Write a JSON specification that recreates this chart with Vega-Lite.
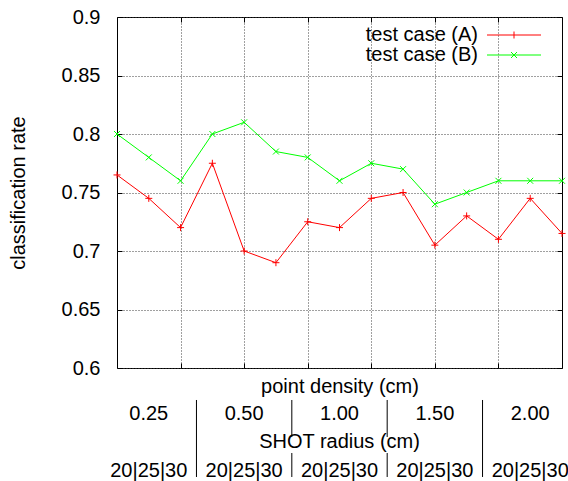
{
  "$schema": "https://vega.github.io/schema/vega-lite/v6.json",
  "width": 445,
  "height": 351,
  "autosize": {"type": "none"},
  "padding": {"left": 117, "top": 17, "right": 6, "bottom": 113},
  "config": {
    "font": "Liberation Sans",
    "view": {"stroke": "#000000", "strokeWidth": 1},
    "axis": {
      "labelFont": "Liberation Sans",
      "titleFont": "Liberation Sans",
      "labelFontSize": 20,
      "titleFontSize": 20,
      "labelColor": "#000000",
      "titleColor": "#000000",
      "titleFontWeight": "normal",
      "domain": false,
      "tickColor": "#000000",
      "tickWidth": 1,
      "tickSize": -5,
      "gridColor": "#404040",
      "gridDash": [1, 2],
      "gridWidth": 1
    },
    "text": {"font": "Liberation Sans", "fontSize": 20, "color": "#000000"}
  },
  "datasets": {
    "rates": [
      {"idx": 0, "density": "0.25", "radius": 20, "series": "test case (A)", "rate": 0.765},
      {"idx": 1, "density": "0.25", "radius": 25, "series": "test case (A)", "rate": 0.745},
      {"idx": 2, "density": "0.25", "radius": 30, "series": "test case (A)", "rate": 0.72},
      {"idx": 3, "density": "0.50", "radius": 20, "series": "test case (A)", "rate": 0.775},
      {"idx": 4, "density": "0.50", "radius": 25, "series": "test case (A)", "rate": 0.70},
      {"idx": 5, "density": "0.50", "radius": 30, "series": "test case (A)", "rate": 0.69},
      {"idx": 6, "density": "1.00", "radius": 20, "series": "test case (A)", "rate": 0.725},
      {"idx": 7, "density": "1.00", "radius": 25, "series": "test case (A)", "rate": 0.72},
      {"idx": 8, "density": "1.00", "radius": 30, "series": "test case (A)", "rate": 0.745},
      {"idx": 9, "density": "1.50", "radius": 20, "series": "test case (A)", "rate": 0.75},
      {"idx": 10, "density": "1.50", "radius": 25, "series": "test case (A)", "rate": 0.705},
      {"idx": 11, "density": "1.50", "radius": 30, "series": "test case (A)", "rate": 0.73},
      {"idx": 12, "density": "2.00", "radius": 20, "series": "test case (A)", "rate": 0.71},
      {"idx": 13, "density": "2.00", "radius": 25, "series": "test case (A)", "rate": 0.745},
      {"idx": 14, "density": "2.00", "radius": 30, "series": "test case (A)", "rate": 0.715},
      {"idx": 0, "density": "0.25", "radius": 20, "series": "test case (B)", "rate": 0.80},
      {"idx": 1, "density": "0.25", "radius": 25, "series": "test case (B)", "rate": 0.78},
      {"idx": 2, "density": "0.25", "radius": 30, "series": "test case (B)", "rate": 0.76},
      {"idx": 3, "density": "0.50", "radius": 20, "series": "test case (B)", "rate": 0.80},
      {"idx": 4, "density": "0.50", "radius": 25, "series": "test case (B)", "rate": 0.81},
      {"idx": 5, "density": "0.50", "radius": 30, "series": "test case (B)", "rate": 0.785},
      {"idx": 6, "density": "1.00", "radius": 20, "series": "test case (B)", "rate": 0.78},
      {"idx": 7, "density": "1.00", "radius": 25, "series": "test case (B)", "rate": 0.76},
      {"idx": 8, "density": "1.00", "radius": 30, "series": "test case (B)", "rate": 0.775},
      {"idx": 9, "density": "1.50", "radius": 20, "series": "test case (B)", "rate": 0.77},
      {"idx": 10, "density": "1.50", "radius": 25, "series": "test case (B)", "rate": 0.74},
      {"idx": 11, "density": "1.50", "radius": 30, "series": "test case (B)", "rate": 0.75},
      {"idx": 12, "density": "2.00", "radius": 20, "series": "test case (B)", "rate": 0.76},
      {"idx": 13, "density": "2.00", "radius": 25, "series": "test case (B)", "rate": 0.76},
      {"idx": 14, "density": "2.00", "radius": 30, "series": "test case (B)", "rate": 0.76}
    ],
    "groups": [
      {"density": "0.25", "center": 1, "radii": "20|25|30"},
      {"density": "0.50", "center": 4, "radii": "20|25|30"},
      {"density": "1.00", "center": 7, "radii": "20|25|30"},
      {"density": "1.50", "center": 10, "radii": "20|25|30"},
      {"density": "2.00", "center": 13, "radii": "20|25|30"}
    ],
    "separators": [
      {"after": "0.25", "boundary": 2.5, "crossesTitle": false},
      {"after": "0.50", "boundary": 5.5, "crossesTitle": true},
      {"after": "1.00", "boundary": 8.5, "crossesTitle": true},
      {"after": "1.50", "boundary": 11.5, "crossesTitle": false}
    ],
    "subtitle": [
      {"label": "SHOT radius (cm)", "center": 7}
    ]
  },
  "layer": [
    {
      "data": {"name": "rates"},
      "mark": {"type": "line", "strokeWidth": 1},
      "encoding": {
        "x": {
          "field": "idx", "type": "quantitative",
          "scale": {"domain": [0, 14], "nice": false, "zero": false},
          "axis": {"orient": "bottom", "values": [2, 4, 6, 8, 10, 12], "labels": false, "grid": true, "title": "point density (cm)", "titlePadding": 8}
        },
        "y": {
          "field": "rate", "type": "quantitative",
          "scale": {"domain": [0.6, 0.9], "nice": false, "zero": false},
          "axis": {"orient": "left", "values": [0.6, 0.65, 0.7, 0.75, 0.8, 0.85, 0.9], "format": ".2~f", "labelPadding": 22, "grid": true, "title": "classification rate", "titlePadding": 33}
        },
        "color": {
          "field": "series", "type": "nominal",
          "scale": {"domain": ["test case (A)", "test case (B)"], "range": ["#ff0000", "#00ff00"]},
          "legend": {
            "title": null,
            "orient": "none",
            "legendX": 387,
            "legendY": 8,
            "padding": 0,
            "rowPadding": 0,
            "labelFont": "Liberation Sans",
            "labelFontSize": 20,
            "labelColor": "#000000",
            "symbolSize": 100,
            "symbolStrokeWidth": 1,
            "encode": {
              "symbols": {"update": {"shape": {"signal": "datum.value === 'test case (A)' ? 'M-5.4,0H5.4M0,-0.7V0.7' : 'M-5.4,0H5.4M-0.6,-0.6L0.6,0.6M-0.6,0.6L0.6,-0.6'"}}},
              "labels": {"update": {"x": {"value": -26}, "align": {"value": "right"}}}
            }
          }
        }
      }
    },
    {
      "data": {"name": "rates"},
      "transform": [{"filter": "datum.series === 'test case (A)'"}],
      "mark": {"type": "point", "shape": "M-1,0H1M0,-1V1", "filled": false, "strokeWidth": 1, "size": 49, "opacity": 1, "color": "#ff0000"},
      "encoding": {
        "x": {
          "field": "idx", "type": "quantitative",
          "scale": {"domain": [0, 14], "nice": false, "zero": false},
          "axis": {"orient": "top", "values": [2, 4, 6, 8, 10, 12], "labels": false, "grid": false, "title": null}
        },
        "y": {
          "field": "rate", "type": "quantitative",
          "scale": {"domain": [0.6, 0.9], "nice": false, "zero": false},
          "axis": {"orient": "right", "values": [0.6, 0.65, 0.7, 0.75, 0.8, 0.85, 0.9], "labels": false, "grid": false, "title": null}
        }
      }
    },
    {
      "data": {"name": "rates"},
      "transform": [{"filter": "datum.series === 'test case (B)'"}],
      "mark": {"type": "point", "shape": "M-0.85,-0.85L0.85,0.85M-0.85,0.85L0.85,-0.85", "filled": false, "strokeWidth": 1, "size": 49, "opacity": 1, "color": "#00ff00"},
      "encoding": {
        "x": {"field": "idx", "type": "quantitative", "scale": {"domain": [0, 14], "nice": false, "zero": false}, "axis": null},
        "y": {"field": "rate", "type": "quantitative", "scale": {"domain": [0.6, 0.9], "nice": false, "zero": false}, "axis": null}
      }
    },
    {
      "data": {"name": "groups"},
      "mark": {"type": "text", "align": "center", "baseline": "alphabetic"},
      "encoding": {
        "x": {"field": "center", "type": "quantitative", "scale": {"domain": [0, 14], "nice": false, "zero": false}, "axis": null},
        "y": {"datum": 0.55513, "type": "quantitative", "scale": {"domain": [0.6, 0.9], "nice": false, "zero": false}, "axis": null},
        "text": {"field": "density"}
      }
    },
    {
      "data": {"name": "subtitle"},
      "mark": {"type": "text", "align": "center", "baseline": "alphabetic"},
      "encoding": {
        "x": {"field": "center", "type": "quantitative", "scale": {"domain": [0, 14], "nice": false, "zero": false}, "axis": null},
        "y": {"datum": 0.53205, "type": "quantitative", "scale": {"domain": [0.6, 0.9], "nice": false, "zero": false}, "axis": null},
        "text": {"field": "label"}
      }
    },
    {
      "data": {"name": "groups"},
      "mark": {"type": "text", "align": "center", "baseline": "alphabetic"},
      "encoding": {
        "x": {"field": "center", "type": "quantitative", "scale": {"domain": [0, 14], "nice": false, "zero": false}, "axis": null},
        "y": {"datum": 0.50726, "type": "quantitative", "scale": {"domain": [0.6, 0.9], "nice": false, "zero": false}, "axis": null},
        "text": {"field": "radii"}
      }
    },
    {
      "data": {"name": "separators"},
      "transform": [{"filter": "!datum.crossesTitle"}],
      "mark": {"type": "rule", "color": "#000000", "strokeWidth": 1},
      "encoding": {
        "x": {"field": "boundary", "type": "quantitative", "scale": {"domain": [0, 14], "nice": false, "zero": false}, "axis": null},
        "y": {"datum": 0.57265, "type": "quantitative", "scale": {"domain": [0.6, 0.9], "nice": false, "zero": false}, "axis": null},
        "y2": {"datum": 0.50684}
      }
    },
    {
      "data": {"name": "separators"},
      "transform": [{"filter": "datum.crossesTitle"}],
      "mark": {"type": "rule", "color": "#000000", "strokeWidth": 1},
      "encoding": {
        "x": {"field": "boundary", "type": "quantitative", "scale": {"domain": [0, 14], "nice": false, "zero": false}, "axis": null},
        "y": {"datum": 0.57265, "type": "quantitative", "scale": {"domain": [0.6, 0.9], "nice": false, "zero": false}, "axis": null},
        "y2": {"datum": 0.54103}
      }
    },
    {
      "data": {"name": "separators"},
      "transform": [{"filter": "datum.crossesTitle"}],
      "mark": {"type": "rule", "color": "#000000", "strokeWidth": 1},
      "encoding": {
        "x": {"field": "boundary", "type": "quantitative", "scale": {"domain": [0, 14], "nice": false, "zero": false}, "axis": null},
        "y": {"datum": 0.52735, "type": "quantitative", "scale": {"domain": [0.6, 0.9], "nice": false, "zero": false}, "axis": null},
        "y2": {"datum": 0.50684}
      }
    }
  ],
  "resolve": {"scale": {"x": "independent", "y": "independent"}}
}
